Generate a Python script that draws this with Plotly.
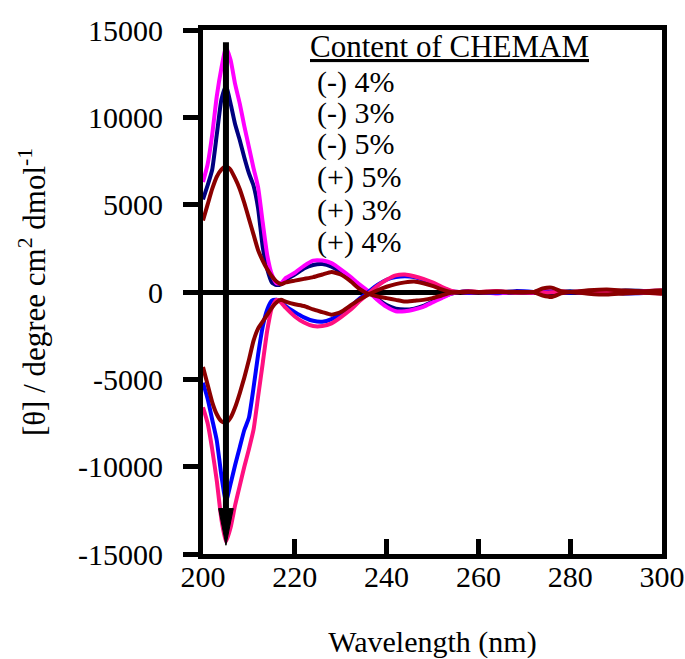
import plotly.graph_objects as go

wavelength = [200, 201, 202, 203, 204, 205, 206, 207, 208, 209, 210, 211, 212, 213, 214, 215, 216, 217, 218,
              220, 222, 224, 226, 228, 230, 232, 234, 236, 238, 240, 242, 244, 246, 248, 250, 252, 254, 256, 258,
              260, 264, 268, 272, 274, 276, 278, 280, 284, 288, 292, 296, 300]

minus_4 = [6300, 7300, 9000, 11200, 12800, 14000, 13300, 11900, 10800, 9500, 8300, 7100, 6000, 4000, 2100, 1000, 500,
           500, 800, 1100, 1500, 1800, 1800, 1650, 1300, 900, 450, 50, -450, -850, -1100, -1100, -1000, -850, -600,
           -350, -100, 0, -50, 0, -80, 0, -60, 60, 30, -50, 0, -60, 60, -50, 50, 80]
minus_3 = [5300, 6100, 7000, 9000, 11000, 11800, 10800, 9600, 8700, 7700, 6800, 6100, 4800, 2600, 1300, 550, 400,
           450, 700, 1000, 1350, 1550, 1600, 1450, 1150, 800, 400, 0, -400, -750, -950, -1000, -950, -800, -550,
           -300, -100, 0, 50, -50, 40, -60, 0, 80, -20, 0, 40, -60, 0, 80, 60, 0]
minus_5 = [4100, 5000, 5900, 6600, 7000, 7200, 7000, 6500, 5900, 5100, 4200, 3300, 2400, 1800, 1300, 900, 600,
           450, 550, 650, 750, 850, 1000, 1150, 1000, 650, 200, -100, -250, -350, -450, -550, -500, -450, -350,
           -200, -50, 0, 20, 0, 30, -20, 0, 200, 250, 50, 0, 100, 150, 80, 50, 100]
plus_5 = [-4300, -5300, -6300, -7000, -7400, -7500, -7200, -6600, -5800, -4900, -3900, -2800, -2100, -1700, -1300,
          -900, -600, -450, -550, -700, -800, -1000, -1150, -1300, -1150, -800, -450, -150, 100, 300, 450, 550, 600,
          500, 350, 150, 0, -20, 0, -30, 0, 20, -20, -200, -280, -80, 0, -100, -150, -80, -50, -100]
plus_3 = [-5200, -6100, -7300, -8500, -10500, -12000, -11000, -9900, -8900, -7900, -7200, -5500, -3600, -2000,
          -1000, -500, -450, -550, -800, -1150, -1450, -1650, -1700, -1550, -1250, -850, -400, 0, 400, 700, 850,
          900, 850, 700, 500, 250, 50, 0, -40, 0, -50, 50, 0, -60, 30, 0, -40, 60, 0, -80, -60, 0]
plus_4 = [-6600, -7500, -9000, -10800, -13000, -14300, -13500, -12200, -11100, -10000, -9000, -7900, -6000, -4100,
          -2200, -900, -450, -600, -900, -1400, -1750, -1950, -1950, -1800, -1450, -1050, -550, -100, 350, 700, 950,
          1000, 900, 750, 550, 300, 80, 0, 50, 0, 60, -40, 0, -60, -20, 40, 0, 60, -60, 50, -50, -80]

x_ticks = [200, 220, 240, 260, 280, 300]
y_ticks = [-15000, -10000, -5000, 0, 5000, 10000, 15000]
y_ticktext = ["-15000", "-10000", "-5000", "0", "5000", "10000", "15000"]

legend_title = "Content of CHEMAM"
legend_labels = ["(-) 4%", "(-) 3%", "(-) 5%", "(+) 5%", "(+) 3%", "(+) 4%"]

series = [
    ("(-) 3%", minus_3, "#000080"),
    ("(-) 4%", minus_4, "#FF00FF"),
    ("(+) 3%", plus_3, "#0000FF"),
    ("(+) 4%", plus_4, "#FF1080"),
    ("(-) 5%", minus_5, "#8B0000"),
    ("(+) 5%", plus_5, "#8B0000"),
]

FONT = "Liberation Serif"

fig = go.Figure()
for name, vals, col in series:
    fig.add_trace(go.Scatter(x=wavelength, y=vals, mode="lines", name=name,
                             line=dict(color=col, width=4, shape="spline", smoothing=0.5),
                             showlegend=False))

# arrow at 205 nm
fig.add_shape(type="line", x0=205, x1=205, y0=14300, y1=-12400, xref="x", yref="y",
              line=dict(color="black", width=6))
fig.add_shape(type="path", xref="x", yref="y",
              path="M 203.4,-12400 L 206.6,-12400 L 205,-14500 Z",
              fillcolor="black", line=dict(color="black", width=1))

# legend text
fig.add_annotation(x=0.2288, y=0.9676, xref="paper", yref="paper", xanchor="left", yanchor="middle",
                   text="<u>" + legend_title + "</u>", showarrow=False,
                   font=dict(family=FONT, size=31, color="black"))
ys = [0.9013, 0.841, 0.7824, 0.719, 0.6565, 0.5960]
for lab, yy in zip(legend_labels, ys):
    fig.add_annotation(x=0.2440, y=yy, xref="paper", yref="paper", xanchor="left", yanchor="middle",
                       text=lab, showarrow=False, font=dict(family=FONT, size=30, color="black"))

fig.update_layout(
    width=685, height=659,
    margin=dict(l=203, r=23, t=30, b=105),
    plot_bgcolor="white", paper_bgcolor="white",
    font=dict(family=FONT, size=30, color="black"),
    xaxis=dict(range=[200, 300], tickvals=x_ticks, ticktext=[str(v) for v in x_ticks],
               ticks="inside", ticklen=15, tickwidth=5, tickcolor="black",
               showline=True, linewidth=5, linecolor="black", mirror=True,
               showgrid=False, zeroline=False, automargin=False,
               title=dict(text="Wavelength (nm)", font=dict(family=FONT, size=30), standoff=40),
               tickfont=dict(family=FONT, size=30), ticklabelstandoff=-8),
    yaxis=dict(range=[-15000, 15000], tickvals=y_ticks, ticktext=y_ticktext,
               ticks="outside", ticklen=15, tickwidth=5, tickcolor="black",
               showline=True, linewidth=5, linecolor="black", mirror=True,
               showgrid=False, zeroline=True, zerolinewidth=5, zerolinecolor="black",
               automargin=False,
               title=dict(text="[θ] / degree cm<sup>2</sup> dmol<sup>-1</sup>",
                          font=dict(family=FONT, size=31), standoff=25),
               tickfont=dict(family=FONT, size=30), ticklabelstandoff=14),
)

fig.write_html("out.html")
